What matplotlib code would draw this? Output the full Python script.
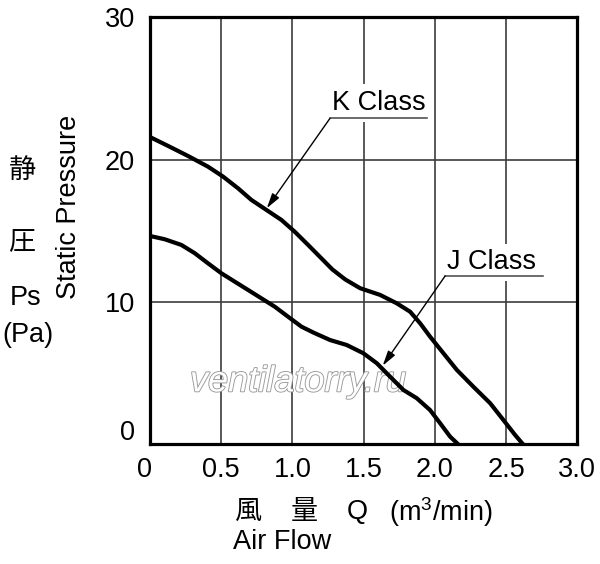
import matplotlib
matplotlib.use('Agg')
import matplotlib.pyplot as plt
from matplotlib import patheffects
from matplotlib.transforms import ScaledTranslation

plt.rcParams['font.family'] = ['Liberation Sans', 'Noto Sans CJK JP']
plt.rcParams['mathtext.fontset'] = 'custom'
plt.rcParams['mathtext.rm'] = 'Liberation Sans'
plt.rcParams['mathtext.it'] = 'Liberation Sans'

# K Class curve (air flow m3/min, static pressure Pa)
k_flow = [0.0, 0.126, 0.267, 0.407, 0.513, 0.618, 0.712, 0.817, 0.922, 1.016, 1.11,
          1.203, 1.28, 1.37, 1.475, 1.615, 1.732, 1.826, 1.896, 1.966, 2.06, 2.154,
          2.27, 2.388, 2.481, 2.563, 2.62]
k_pressure = [21.6, 20.98, 20.27, 19.52, 18.82, 18.0, 17.18, 16.48, 15.78, 14.95, 14.02,
              13.08, 12.3, 11.6, 10.98, 10.51, 9.92, 9.33, 8.52, 7.58, 6.41, 5.24,
              4.06, 2.9, 1.72, 0.67, 0.0]

# J Class curve
j_flow = [0.0, 0.103, 0.22, 0.314, 0.407, 0.501, 0.595, 0.688, 0.782, 0.876, 0.969,
          1.063, 1.15, 1.264, 1.381, 1.498, 1.592, 1.685, 1.779, 1.873, 1.966, 2.037,
          2.107, 2.165]
j_pressure = [14.65, 14.42, 14.02, 13.44, 12.73, 12.03, 11.44, 10.86, 10.27, 9.68, 8.98,
              8.28, 7.85, 7.34, 6.99, 6.41, 5.71, 4.77, 3.83, 3.25, 2.42, 1.49,
              0.55, 0.0]

x_ticks = [0, 0.5, 1.0, 1.5, 2.0, 2.5, 3.0]
x_tick_labels = ['0', '0.5', '1.0', '1.5', '2.0', '2.5', '3.0']
y_ticks = [0, 10, 20, 30]
y_tick_labels = ['0', '10', '20', '30']

FS = 19.5

fig = plt.figure(figsize=(6, 5.64), dpi=100)
ax = fig.add_axes([0.25, 0.2119, 0.7122, 0.7571])
ax.set_xlim(0, 3)
ax.set_ylim(0, 30)
ax.set_xticks(x_ticks, x_tick_labels)
ax.set_yticks(y_ticks, y_tick_labels)
ax.set_axisbelow(True)
ax.grid(True, color='#3c3c3c', lw=1.2)
ax.tick_params(axis='both', length=0, labelsize=FS)
ax.tick_params(axis='x', pad=9)
ax.tick_params(axis='y', pad=11)
for s in ax.spines.values():
    s.set_linewidth(2.3)
    s.set_color('black')

# shift the "0" labels away from the corner
lab = ax.get_yticklabels()[0]
lab.set_transform(lab.get_transform() + ScaledTranslation(0, 14 / 100, fig.dpi_scale_trans))
lab = ax.get_xticklabels()[0]
lab.set_transform(lab.get_transform() + ScaledTranslation(-5 / 100, 0, fig.dpi_scale_trans))

ax.plot(k_flow, k_pressure, color='black', lw=3, solid_joinstyle='round', zorder=2)
ax.plot(j_flow, j_pressure, color='black', lw=3, solid_joinstyle='round', zorder=2)

# watermark
ax.text(1.04, 4.4, 'ventilatorry.ru', fontsize=26, style='italic', color='white',
        ha='center', va='center', zorder=1.8,
        path_effects=[patheffects.withStroke(linewidth=1.3, foreground='#9a9a9a')])

arrow = dict(arrowstyle='-|>,head_length=0.9,head_width=0.25', color='black', lw=1,
             shrinkA=0, shrinkB=0)

# K Class label
ax.text(1.277, 24.0, 'K Class', ha='left', va='center', fontsize=FS, zorder=3,
        bbox=dict(fc='white', ec='none', pad=4))
ax.plot([1.264, 1.943], [22.92, 22.92], color='#444444', lw=1.1, zorder=4)
ax.annotate('', xy=(0.82, 16.6), xytext=(1.264, 22.92), arrowprops=arrow, zorder=4)

# J Class label
ax.text(2.083, 12.79, 'J Class', ha='left', va='center', fontsize=FS, zorder=3,
        bbox=dict(fc='white', ec='none', pad=4))
ax.plot([2.072, 2.76], [11.84, 11.84], color='#444444', lw=1.1, zorder=4)
ax.annotate('', xy=(1.634, 5.54), xytext=(2.072, 11.84), arrowprops=arrow, zorder=4)

W, H = 600, 564


def ftext(px, py, s, **kw):
    fig.text(px / W, 1 - py / H, s, fontsize=FS, **kw)


# y-axis labels
ftext(69, 207, 'Static Pressure', rotation=90, ha='center', va='center')
ftext(22, 171, '静', ha='center', va='center')
ftext(22, 243, '圧', ha='center', va='center')
ftext(26, 298, 'Ps', ha='center', va='center')
ftext(28, 335, '(Pa)', ha='center', va='center')

# x-axis labels
ftext(248, 512, '風', ha='center', va='center')
ftext(304, 512, '量', ha='center', va='center')
ftext(357, 512, 'Q', ha='center', va='center')
ftext(441, 512, '(m$^3$/min)', ha='center', va='center')
ftext(233, 542, 'Air Flow', ha='left', va='center')

fig.savefig('out.png', dpi=100)
